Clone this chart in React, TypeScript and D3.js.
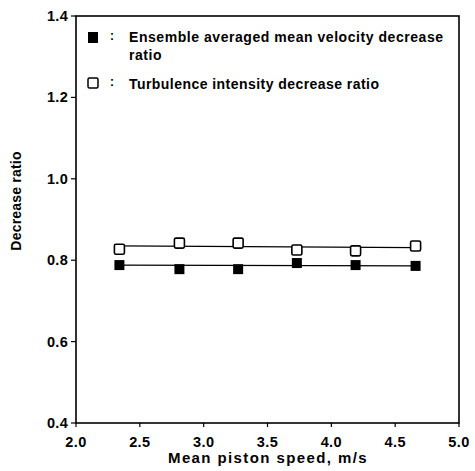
import React from "react";
import * as d3 from "d3";

const speeds = [2.34, 2.81, 3.27, 3.73, 4.19, 4.66];
const meanVelocityRatio = [0.788, 0.778, 0.778, 0.793, 0.788, 0.786];
const turbulenceRatio = [0.827, 0.842, 0.842, 0.825, 0.823, 0.835];
const fitMeanVelocity = [0.788, 0.786];
const fitTurbulence = [0.835, 0.831];
const xTicks = [2.0, 2.5, 3.0, 3.5, 4.0, 4.5, 5.0];
const yTicks = [0.4, 0.6, 0.8, 1.0, 1.2, 1.4];
const legendLabels = [
  ["Ensemble averaged mean velocity decrease", "ratio"],
  ["Turbulence intensity decrease ratio"],
];

const W = 475, H = 471;
const left = 76, right = 459, top = 16, bottom = 423;

export default function App() {
  const x = d3.scaleLinear().domain([2, 5]).range([left, right]);
  const y = d3.scaleLinear().domain([0.4, 1.4]).range([bottom, top]);
  const font = "Arial, 'Liberation Sans', Helvetica, sans-serif";
  const ms = 10;
  const fitX = [speeds[0], speeds[speeds.length - 1]];
  const line = d3.line<number>().x((_, i) => x(fitX[i])).y((d) => y(d));
  return (
    <svg width={W} height={H} style={{ position: "absolute", left: 0, top: 0 }} fontFamily={font}>
      <rect width={W} height={H} fill="#fff" />
      <rect x={left} y={top} width={right - left} height={bottom - top} fill="none" stroke="#000" strokeWidth={1.6} />
      {yTicks.map((t) => (
        <g key={"y" + t}>
          <line x1={left - 5} x2={left} y1={y(t)} y2={y(t)} stroke="#000" strokeWidth={1.2} />
          <text x={left - 8} y={y(t) + 5} textAnchor="end" fontSize={14.5} fontWeight="bold" letterSpacing={0.3}>{t.toFixed(1)}</text>
        </g>
      ))}
      {xTicks.map((t) => (
        <g key={"x" + t}>
          <line x1={x(t)} x2={x(t)} y1={bottom} y2={bottom + 4} stroke="#000" strokeWidth={1.2} />
          <text x={x(t)} y={447} textAnchor="middle" fontSize={14.5} fontWeight="bold" letterSpacing={0.4}>{t.toFixed(1)}</text>
        </g>
      ))}
      <text x={268} y={463} textAnchor="middle" fontSize={15} fontWeight="bold" letterSpacing={1.4}>Mean piston speed, m/s</text>
      <text transform={`translate(21,201) rotate(-90)`} textAnchor="middle" fontSize={14} fontWeight="bold" letterSpacing={0.2}>Decrease ratio</text>

      <path d={line(fitTurbulence) || ""} fill="none" stroke="#000" strokeWidth={1.3} />
      <path d={line(fitMeanVelocity) || ""} fill="none" stroke="#000" strokeWidth={1.3} />
      {speeds.map((s, i) => (
        <rect key={"t" + i} x={x(s) - ms / 2} y={y(turbulenceRatio[i]) - ms / 2} width={ms} height={ms} rx={1.5} fill="#fff" stroke="#000" strokeWidth={1.6} />
      ))}
      {speeds.map((s, i) => (
        <rect key={"m" + i} x={x(s) - ms / 2} y={y(meanVelocityRatio[i]) - ms / 2} width={ms} height={ms} fill="#000" />
      ))}

      <rect x={88} y={32} width={10} height={11} fill="#000" />
      <text x={110} y={40} fontSize={12} fontWeight="bold">:</text>
      <text x={129} y={42} fontSize={14} fontWeight="bold" letterSpacing={0.55}>{legendLabels[0][0]}</text>
      <text x={129} y={60} fontSize={14} fontWeight="bold" letterSpacing={0.55}>{legendLabels[0][1]}</text>
      <rect x={88} y={78} width={10} height={10} rx={1.5} fill="#fff" stroke="#000" strokeWidth={1.5} />
      <text x={110} y={86} fontSize={12} fontWeight="bold">:</text>
      <text x={129} y={89} fontSize={14} fontWeight="bold" letterSpacing={0.45}>{legendLabels[1][0]}</text>
    </svg>
  );
}
